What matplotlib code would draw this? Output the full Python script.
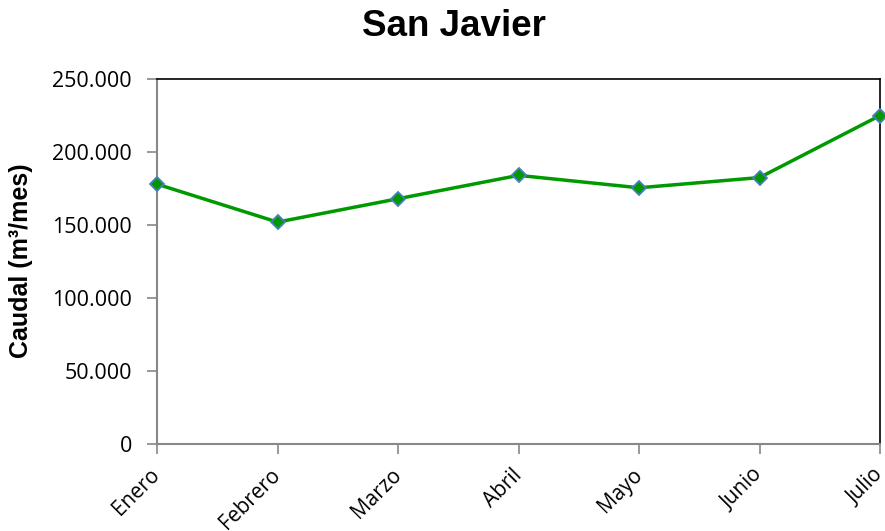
import numpy as np
from matplotlib import pyplot as plt
from matplotlib.ticker import FuncFormatter
from matplotlib.transforms import ScaledTranslation

meses = ["Enero", "Febrero", "Marzo", "Abril", "Mayo", "Junio", "Julio"]
caudal = [178000, 152000, 168000, 184000, 175500, 182500, 225000]
yticks = [0, 50000, 100000, 150000, 200000, 250000]

fig = plt.figure(figsize=(8.85, 5.31), dpi=100)
ax = fig.add_axes([0.1774, 0.1638, 0.8170, 0.6874])

x = np.arange(len(meses))
ax.plot(x, caudal, color="#009900", lw=2.5, marker="D", ms=7,
        markerfacecolor="#009900", markeredgecolor="#4a7ebb", markeredgewidth=1.3,
        clip_on=False, zorder=5)

ax.set_xlim(0, len(meses) - 1)
ax.set_ylim(0, 250000)
ax.set_yticks(yticks)
ax.yaxis.set_major_formatter(FuncFormatter(lambda v, p: "0" if v == 0 else f"{int(v):,}".replace(",", ".")))
ax.set_xticks(x)
ax.set_xticklabels(meses, rotation=45, ha="right", va="center", rotation_mode="anchor")

tickfont = "Open Sans"
for lab in ax.get_yticklabels():
    lab.set_fontfamily(tickfont)
    lab.set_fontsize(15.5)
# shift the month labels a little to the left so "Julio" stays inside
shift = ScaledTranslation(-5 / 72, 0, fig.dpi_scale_trans)
for lab in ax.get_xticklabels():
    lab.set_fontfamily(tickfont)
    lab.set_fontsize(15)
    lab.set_transform(lab.get_transform() + shift)

ax.tick_params(axis="both", direction="out", length=7, width=1.2, color="#888888")
ax.tick_params(axis="y", pad=11)
ax.tick_params(axis="x", pad=13)
for s in ["left", "bottom"]:
    ax.spines[s].set_color("#888888")
    ax.spines[s].set_linewidth(1.5)
for s in ["top", "right"]:
    ax.spines[s].set_color("black")
    ax.spines[s].set_linewidth(1.2)

fig.text(0.024, 0.51, "Caudal (m³/mes)", rotation=90, ha="center", va="center",
         fontfamily="Liberation Sans", fontweight="bold", fontsize=18)
fig.text(0.513, 0.951, "San Javier", ha="center", va="center",
         fontfamily="Liberation Sans", fontweight="bold", fontsize=26.5)

plt.savefig("out.png", dpi=100)
